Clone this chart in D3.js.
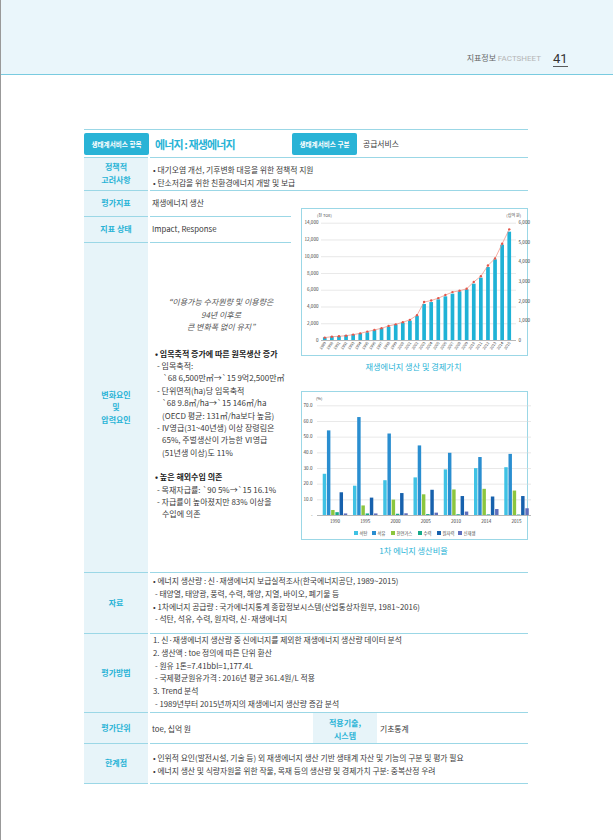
<!DOCTYPE html>
<html>
<head>
<meta charset="utf-8">
<script src="https://cdn.jsdelivr.net/npm/d3@7"></script>
<style>
  body { margin: 0; background: #fff; }
  svg { display: block; font-family: "Noto Sans CJK KR", "Noto Sans", sans-serif; }
</style>
</head>
<body>
<script>
// ---- data ----
const prodYears = ["1989","1990","1991","1992","1993","1994","1995","1996","1997","1998","1999","2000","2001","2002",
  "2003","2004","2005","2006","2007","2008","2009","2010","2011","2012","2013","2014","2015"];
// 재생에너지 생산량 (천 TOE)
const production = [320, 440, 480, 600, 680, 800, 920, 1190, 1430, 1590, 1870, 2070, 2310, 2860,
  4300, 4530, 4850, 5210, 5530, 5810, 6050, 6720, 7440, 8710, 9630, 11380, 12930];
// 경제가치 (십억 원)
const value = [120, 170, 190, 220, 275, 340, 430, 515, 600, 720, 800, 910, 1030, 1270,
  1940, 2020, 2140, 2300, 2450, 2520, 2620, 2970, 3260, 3810, 4170, 4920, 5660];
const leftTicks = [0, 2000, 4000, 6000, 8000, 10000, 12000, 14000];
const rightTicks = [0, 1000, 2000, 3000, 4000, 5000, 6000];

const mixYears = ["1990", "1995", "2000", "2005", "2010", "2014", "2015"];
const sources = ["석탄", "석유", "천연가스", "수력", "원자력", "신재생"];
const coal    = [26.3, 18.7, 22.2, 24.0, 29.1, 29.9, 30.5];
const oil     = [54.0, 62.5, 52.0, 44.4, 39.7, 37.0, 39.0];
const gas     = [3.2, 6.1, 9.8, 13.2, 16.3, 16.7, 15.6];
const hydro   = [1.8, 1.0, 0.8, 0.6, 0.5, 0.4, 0.3];
const nuclear = [14.5, 11.1, 14.0, 16.1, 12.1, 11.8, 12.1];
const renew   = [1.0, 1.0, 1.1, 1.5, 2.2, 3.8, 4.3];
const mixTicks = [0, 10, 20, 30, 40, 50, 60, 70];

const mixSeries = [coal, oil, gas, hydro, nuclear, renew];
const mixColors = ["#3fc2e4", "#2a8ed0", "#8cc63f", "#16a98a", "#1761ad", "#5f6fbd"];

// ---- page ----
const W = 613, H = 840;
const cyan = "#29b3d6", lineC = "#9bd7e6", cellBg = "#e7f4f9", ink = "#3a3a3a";

const svg = d3.select("body").append("svg").attr("width", W).attr("height", H);

svg.append("rect").attr("width", W).attr("height", 74).attr("fill", "#eaf6fb");
svg.append("line").attr("x1", 0).attr("x2", W).attr("y1", 74.5).attr("y2", 74.5)
  .attr("stroke", "#79cbe0").attr("stroke-width", 1.2);
svg.append("line").attr("x1", 0.5).attr("x2", 0.5).attr("y1", 0).attr("y2", H)
  .attr("stroke", "#999");

const hdr = svg.append("text").attr("x", 541).attr("y", 61).attr("text-anchor", "end")
  .attr("font-size", 8);
hdr.append("tspan").attr("fill", "#666").text("지표정보 ");
hdr.append("tspan").attr("fill", "#b5b5b5").attr("font-family", "Roboto").text("FACTSHEET");
svg.append("text").attr("x", 553).attr("y", 63).attr("font-size", 13).attr("font-family", "Roboto")
  .attr("fill", "#333").text("41");
svg.append("line").attr("x1", 553).attr("x2", 568).attr("y1", 66.5).attr("y2", 66.5)
  .attr("stroke", "#333").attr("stroke-width", 0.8);

let addText = (x, y, s, o = {}) =>
  svg.append("text").attr("x", x).attr("y", y).text(s)
    .attr("font-size", o.size || 7.8)
    .attr("fill", o.fill || ink)
    .attr("font-weight", o.weight || 400)
    .attr("font-style", o.style || "normal")
    .attr("text-anchor", o.anchor || "start");

// ---- table ----
const rows = [
  { label: ["정책적", "고려사항"], y0: 157, y1: 190 },
  { label: ["평가지표"], y0: 190, y1: 216 },
  { label: ["지표 상태"], y0: 216, y1: 242 },
  { label: ["변화요인", "및", "압력요인"], y0: 242, y1: 572 },
  { label: ["자료"], y0: 572, y1: 633 },
  { label: ["평가방법"], y0: 633, y1: 712 },
  { label: ["평가단위"], y0: 712, y1: 743 },
  { label: ["한계점"], y0: 743, y1: 783 },
];

rows.forEach((r) => {
  svg.append("rect").attr("x", 84).attr("y", r.y0 + 1).attr("width", 64).attr("height", r.y1 - r.y0 - 1)
    .attr("fill", cellBg);
  r.label.forEach((l, i) => {
    addText(116, (r.y0 + r.y1) / 2 + 3 + (i - (r.label.length - 1) / 2) * 12.5, l,
      { anchor: "middle", fill: cyan, weight: 700, size: 8 });
  });
});

let hline = (y, x1, x2) => svg.append("line").attr("x1", x1).attr("x2", x2)
  .attr("y1", y).attr("y2", y).attr("stroke", lineC).attr("stroke-width", 1);
hline(129.5, 84, 528);
[157.5, 190.5, 572.5, 633.5, 712.5, 743.5, 783.5].forEach((y) => {
  hline(y, 84, 148);
  hline(y, 150, 528);
});
[216.5, 242.5].forEach((y) => {
  hline(y, 84, 148);
  hline(y, 150, 291);
});

// header row
[[84, "생태계서비스 항목"], [292, "생태계서비스 구분"]].forEach(([x, s]) => {
  svg.append("rect").attr("x", x).attr("y", 133).attr("width", 65).attr("height", 22).attr("rx", 2)
    .attr("fill", cyan);
  addText(x + 32.5, 147, s, { anchor: "middle", fill: "#fff", weight: 700, size: 6.6 });
});
addText(155, 149, "에너지 : 재생에너지", { fill: cyan, weight: 700, size: 11 })
  .attr("letter-spacing", -0.9);
addText(363, 147, "공급서비스");

// body texts
addText(153, 173, "• 대기오염 개선, 기후변화 대응을 위한 정책적 지원");
addText(153, 186, "• 탄소저감을 위한 친환경에너지 개발 및 보급");
addText(152, 206, "재생에너지 생산");
addText(152, 232, "Impact, Response");

["“이용가능 수자원량 및 이용량은", "94년 이후로", "큰 변화폭 없이 유지”"].forEach((s, i) =>
  addText(221, 305 + i * 12.5, s, { anchor: "middle", style: "italic", fill: "#555", size: 8 }));

const changeLines = [
  [155, "• 임목축적 증가에 따른 원목생산 증가", 700],
  [157, "- 임목축적:"],
  [163, "`68 6,500만㎥→`15 9억2,500만㎥"],
  [157, "- 단위면적(ha)당 임목축적"],
  [162, "`68 9.8㎥/ha→`15 146㎥/ha"],
  [162, "(OECD 평균: 131㎥/ha보다 높음)"],
  [157, "- Ⅳ영급(31~40년생) 이상 장령림은"],
  [162, "65%, 주벌생산이 가능한 Ⅵ영급"],
  [162, "(51년생 이상)도 11%"],
  null,
  [155, "• 높은 해외수입 의존", 700],
  [157, "- 목재자급률: `90 5%→`15 16.1%"],
  [157, "- 자급률이 높아졌지만 83% 이상을"],
  [162, "수입에 의존"],
];
let cy = 356.5;
changeLines.forEach((l) => {
  if (l) addText(l[0], cy, l[1], { weight: l[2] || 400, fill: l[2] ? "#222" : ink, size: 8 });
  cy += l ? 12.4 : 12;
});

[
  [153, "• 에너지 생산량 : 신·재생에너지 보급실적조사(한국에너지공단, 1989~2015)"],
  [155, "- 태양열, 태양광, 풍력, 수력, 해양, 지열, 바이오, 폐기물 등"],
  [153, "• 1차에너지 공급량 : 국가에너지통계 종합정보시스템(산업통상자원부, 1981~2016)"],
  [155, "- 석탄, 석유, 수력, 원자력, 신·재생에너지"],
].forEach((l, i) => addText(l[0], 584 + i * 12.8, l[1]));

[
  [153, "1. 신·재생에너지 생산량 중 신에너지를 제외한 재생에너지 생산량 데이터 분석"],
  [153, "2. 생산액 : toe 정의에 따른 단위 환산"],
  [155, "- 원유 1톤=7.41bbl=1,177.4L"],
  [155, "- 국제평균원유가격 : 2016년 평균 361.4원/L 적용"],
  [153, "3. Trend 분석"],
  [155, "- 1989년부터 2015년까지의 재생에너지 생산량 증감 분석"],
].forEach((l, i) => addText(l[0], 643 + i * 12.8, l[1]));

addText(152, 732, "toe, 십억 원");
svg.append("rect").attr("x", 313).attr("y", 713).attr("width", 64).attr("height", 30).attr("fill", cellBg);
addText(345, 726, "적용기술,", { anchor: "middle", fill: cyan, weight: 700, size: 8 });
addText(345, 739, "시스템", { anchor: "middle", fill: cyan, weight: 700, size: 8 });
addText(380, 732, "기초통계");

addText(153, 761, "• 인위적 요인(발전시설, 기술 등) 외 재생에너지 생산 기반 생태계 자산 및 기능의 구분 및 평가 필요");
addText(153, 774, "• 에너지 생산 및 식량자원을 위한 작물, 목재 등의 생산량 및 경제가치 구분: 중복산정 우려");

// ---- chart 1: 재생에너지 생산 및 경제가치 ----
svg.append("rect").attr("x", 301.5).attr("y", 208.5).attr("width", 226).attr("height", 147)
  .attr("fill", "#fff").attr("stroke", lineC);

const c1 = svg.append("g");
const x1 = d3.scaleBand().domain(prodYears).range([321.5, 512.5]).paddingInner(0.48).paddingOuter(0.2);
const yL = d3.scaleLinear().domain([0, 14000]).range([340, 222.7]);
const yR = d3.scaleLinear().domain([0, 6000]).range([340, 222.7]);

c1.append("g").selectAll("line").data(leftTicks).join("line")
  .attr("x1", 321).attr("x2", 516).attr("y1", (d) => yL(d) + 0.5).attr("y2", (d) => yL(d) + 0.5)
  .attr("stroke", (d) => (d === 0 ? "#888" : "#d9d9d9")).attr("stroke-width", 0.6);

c1.append("g").selectAll("text").data(leftTicks).join("text")
  .attr("x", 318.5).attr("y", (d) => yL(d) + 1.6).attr("text-anchor", "end")
  .attr("font-size", 4.6).attr("fill", "#444").text((d) => d3.format(",")(d));
c1.append("g").selectAll("text").data(rightTicks).join("text")
  .attr("x", 518.5).attr("y", (d) => yR(d) + 1.6)
  .attr("font-size", 4.6).attr("fill", "#444").text((d) => d3.format(",")(d));

c1.append("text").attr("x", 317).attr("y", 216.5).attr("font-size", 4).attr("fill", "#444").text("(천 TOE)");
c1.append("text").attr("x", 521).attr("y", 216.5).attr("text-anchor", "end").attr("font-size", 4)
  .attr("fill", "#444").text("(십억 원)");

c1.append("g").selectAll("rect").data(production).join("rect")
  .attr("x", (d, i) => x1(prodYears[i])).attr("width", x1.bandwidth())
  .attr("y", (d) => yL(d)).attr("height", (d) => yL(0) - yL(d))
  .attr("fill", "#1fb2d6");

const valLine = d3.line().x((d, i) => x1(prodYears[i]) + x1.bandwidth() / 2).y((d) => yR(d));
c1.append("path").datum(value).attr("d", valLine).attr("fill", "none")
  .attr("stroke", "#f28b7c").attr("stroke-width", 0.7);
c1.append("g").selectAll("circle").data(value).join("circle")
  .attr("cx", (d, i) => x1(prodYears[i]) + x1.bandwidth() / 2).attr("cy", (d) => yR(d))
  .attr("r", 1.2).attr("fill", "#e2584c");

c1.append("g").selectAll("text").data(prodYears).join("text")
  .attr("transform", (d) => `translate(${x1(d) + x1.bandwidth() / 2 + 1.5},${343}) rotate(-55)`)
  .attr("text-anchor", "end").attr("font-size", 3.8).attr("fill", "#333").text((d) => d);

addText(413.5, 370, "재생에너지 생산 및 경제가치", { anchor: "middle", fill: cyan, size: 8.2 });

// ---- chart 2: 1차 에너지 생산비율 ----
svg.append("rect").attr("x", 301.5).attr("y", 391.5).attr("width", 226).attr("height", 148)
  .attr("fill", "#fff").attr("stroke", lineC);

const c2 = svg.append("g");
const x0 = d3.scaleBand().domain(mixYears).range([320, 531.5]).paddingInner(0.19).paddingOuter(0.09);
const xs = d3.scaleBand().domain(sources).range([0, x0.bandwidth()]).paddingInner(0.18);
const y2 = d3.scaleLinear().domain([0, 70]).range([515, 405.3]);

c2.append("g").selectAll("line").data(mixTicks).join("line")
  .attr("x1", 317).attr("x2", 531).attr("y1", (d) => y2(d) + 0.5).attr("y2", (d) => y2(d) + 0.5)
  .attr("stroke", (d) => (d === 0 ? "#888" : "#d9d9d9")).attr("stroke-width", 0.6);
c2.append("g").selectAll("text").data(mixTicks).join("text")
  .attr("x", 312.5).attr("y", (d) => y2(d) + 1.6).attr("text-anchor", "end")
  .attr("font-size", 4.6).attr("fill", "#444").text((d) => (d === 0 ? "-" : d3.format(".1f")(d)));
c2.append("text").attr("x", 316).attr("y", 400).attr("font-size", 4).attr("fill", "#444").text("(%)");

sources.forEach((s, si) => {
  c2.append("g").selectAll("rect").data(mixSeries[si]).join("rect")
    .attr("x", (d, i) => x0(mixYears[i]) + xs(s)).attr("width", xs.bandwidth())
    .attr("y", (d) => y2(d)).attr("height", (d) => y2(0) - y2(d))
    .attr("fill", mixColors[si]);
});

c2.append("g").selectAll("text").data(mixYears).join("text")
  .attr("x", (d) => x0(d) + x0.bandwidth() / 2).attr("y", 523).attr("text-anchor", "middle")
  .attr("font-size", 4.6).attr("fill", "#444").text((d) => d);

const legX = [354, 372, 391, 418, 437, 458];
const leg = c2.append("g").selectAll("g").data(sources).join("g")
  .attr("transform", (d, i) => `translate(${legX[i]},${531})`);
leg.append("rect").attr("width", 4).attr("height", 4).attr("fill", (d, i) => mixColors[i]);
leg.append("text").attr("x", 5.5).attr("y", 3.8).attr("font-size", 4.3).attr("fill", "#444").text((d) => d);

addText(413.5, 554, "1차 에너지 생산비율", { anchor: "middle", fill: cyan, size: 8.2 });
</script>
</body>
</html>
